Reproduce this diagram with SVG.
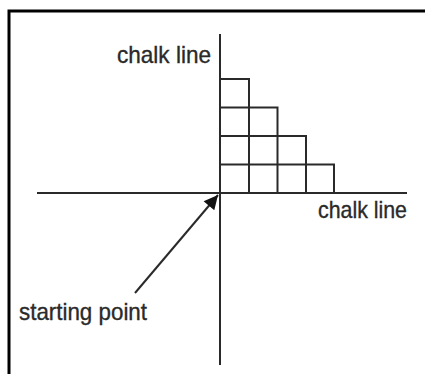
<svg xmlns="http://www.w3.org/2000/svg" width="425" height="374" viewBox="0 0 425 374">
<defs>
<style>
.ln{stroke:#2a2a2a;stroke-width:2;fill:none}
.txt{font-family:"Liberation Sans",Arial,sans-serif;font-size:24px;fill:#2a2a2a;stroke:#2a2a2a;stroke-width:0.35}
</style>
<marker id="ah" viewBox="0 0 10 10" refX="10" refY="5" markerWidth="9" markerHeight="7" markerUnits="strokeWidth" orient="auto">
<path d="M0,0 L10,5 L0,10 z" fill="#111"/>
</marker>
</defs>
<rect width="425" height="374" fill="#fff"/>
<path d="M9,374 V11 H425" stroke="#000" stroke-width="3" fill="none"/>
<g id="connectors">
<line class="ln" x1="220" y1="34" x2="220" y2="365"/>
<line class="ln" x1="37" y1="193" x2="407" y2="193"/>
<path class="ln" d="M220,79 H249 V193 M220,107.5 H277.5 V193 M220,136 H306 V193 M220,164.5 H334 V193"/>
<line class="ln" x1="135" y1="293" x2="218" y2="195" marker-end="url(#ah)"/>
</g>
<g id="label-top"><text class="txt" x="117" y="63" textLength="94" lengthAdjust="spacingAndGlyphs">chalk line</text></g>
<g id="label-right"><text class="txt" x="318" y="218" textLength="89" lengthAdjust="spacingAndGlyphs">chalk line</text></g>
<g id="label-start"><text class="txt" x="19" y="320" textLength="128" lengthAdjust="spacingAndGlyphs">starting point</text></g>
</svg>
